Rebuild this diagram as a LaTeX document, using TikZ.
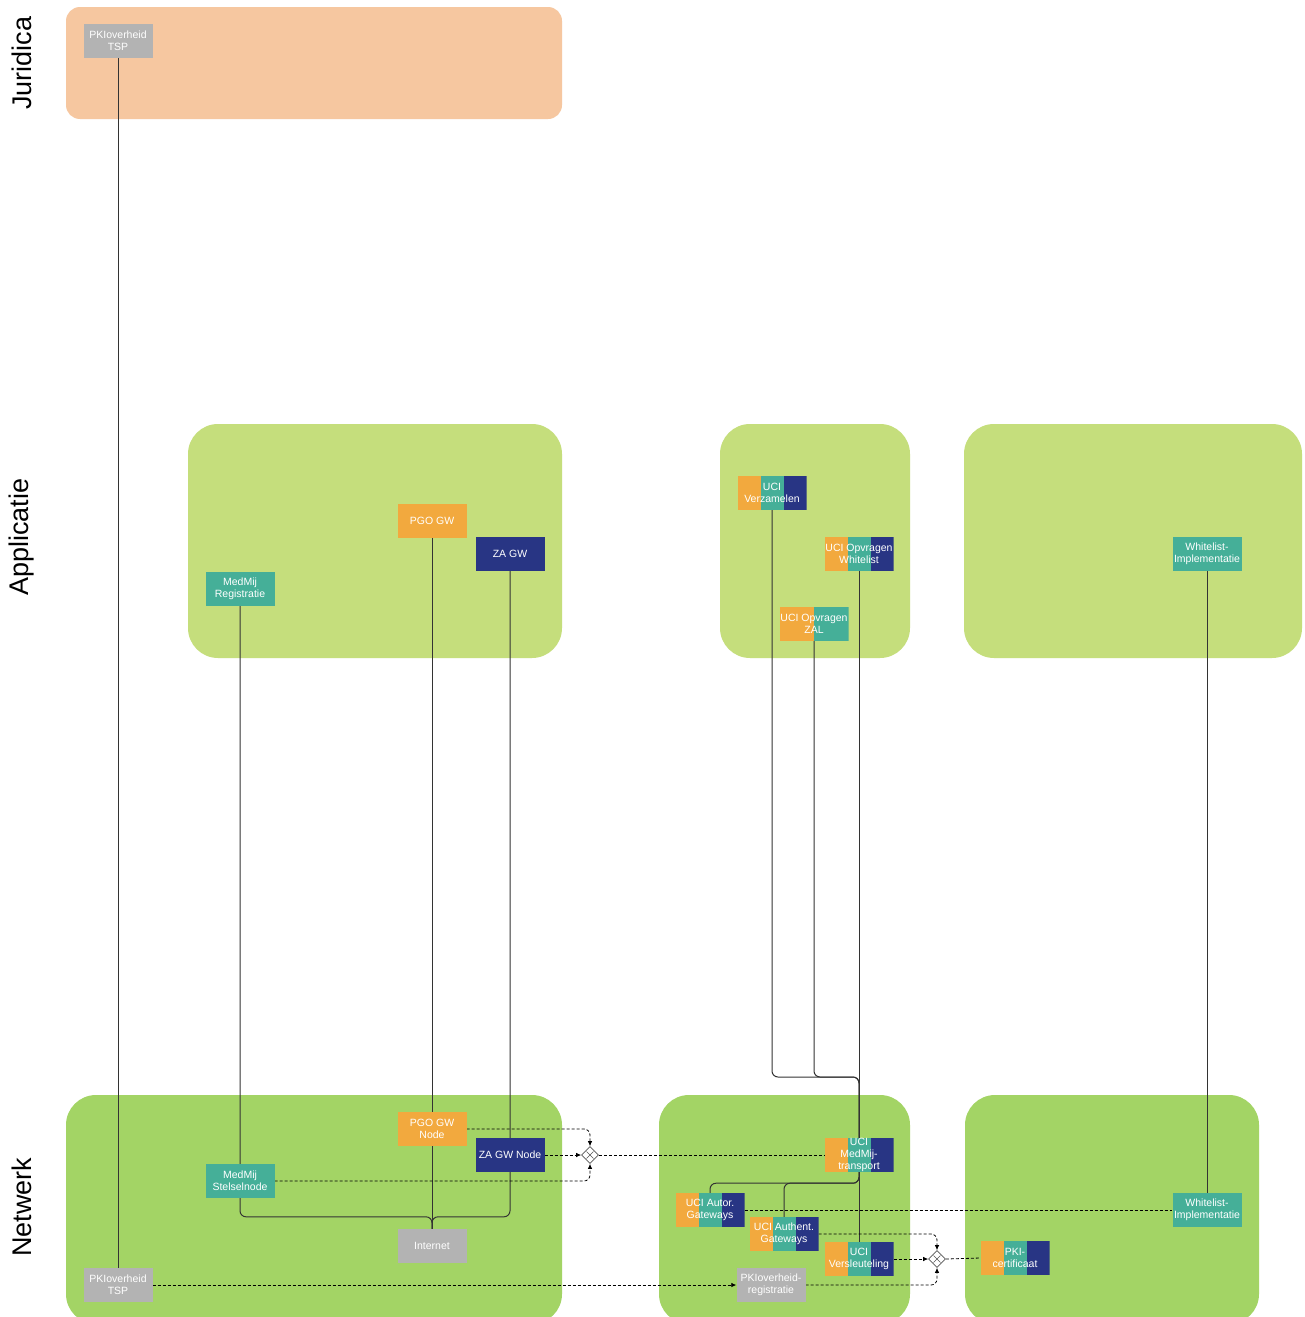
\documentclass[tikz,border=0pt]{standalone}
\usepackage{fontspec}
\setmainfont{Liberation Sans}
\usetikzlibrary{shapes.geometric,arrows.meta,calc}
\pgfdeclarelayer{bg}
\pgfdeclarelayer{lines}
\pgfsetlayers{bg,lines,main}
\definecolor{cOr}{HTML}{F2A93E}
\definecolor{cTe}{HTML}{45AF98}
\definecolor{cNa}{HTML}{283584}
\definecolor{cGr}{HTML}{B3B3B3}
\definecolor{cJur}{HTML}{F6C7A0}
\definecolor{cApp}{HTML}{C5DE7C}
\definecolor{cNet}{HTML}{A3D465}
\definecolor{cLine}{HTML}{333333}
\definecolor{cGate}{HTML}{555555}
\tikzset{
  box/.style={rectangle, minimum width=69pt, minimum height=34pt, inner sep=0pt,
    align=center, text=white, font=\fontsize{10.5}{12}\selectfont},
  grayb/.style={box, fill=cGr},
  orb/.style={box, fill=cOr},
  tealb/.style={box, fill=cTe},
  navyb/.style={box, fill=cNa},
  trib/.style={box, path picture={
    \fill[cOr] (path picture bounding box.south west) rectangle ($(path picture bounding box.north west)!1/3!(path picture bounding box.north east)$);
    \fill[cTe] ($(path picture bounding box.south west)!1/3!(path picture bounding box.south east)$) rectangle ($(path picture bounding box.north west)!2/3!(path picture bounding box.north east)$);
    \fill[cNa] ($(path picture bounding box.south west)!2/3!(path picture bounding box.south east)$) rectangle (path picture bounding box.north east);
  }},
  duob/.style={box, path picture={
    \fill[cOr] (path picture bounding box.south west) rectangle ($(path picture bounding box.north west)!1/2!(path picture bounding box.north east)$);
    \fill[cTe] ($(path picture bounding box.south west)!1/2!(path picture bounding box.south east)$) rectangle (path picture bounding box.north east);
  }},
  gate/.style={diamond, draw=cGate, fill=white, line width=0.6pt, minimum width=17pt, minimum height=17pt, inner sep=0pt,
    path picture={
      \draw[cGate, line width=0.4pt] ($(path picture bounding box.center)+(-3.5,-3.5)$) -- ($(path picture bounding box.center)+(3.5,3.5)$);
      \draw[cGate, line width=0.4pt] ($(path picture bounding box.center)+(-3.5,3.5)$) -- ($(path picture bounding box.center)+(3.5,-3.5)$);
  }},
  conn/.style={draw=cLine, line width=1pt, rounded corners=6pt},
  dconn/.style={draw=black, line width=0.8pt, dash pattern=on 3pt off 2pt, rounded corners=6pt},
  arr/.style={-{Latex[length=5pt,width=4.5pt]}},
  lanelbl/.style={rotate=90, font=\fontsize{27}{30}\selectfont, text=black},
}
\begin{document}
\begin{tikzpicture}[x=1pt,y=-1pt]
\useasboundingbox (0,0) rectangle (1305,1317);
\begin{pgfonlayer}{bg}
  \clip (0,0) rectangle (1305,1317);
  \fill[white] (0,0) rectangle (1305,1317);
  \fill[cJur, rounded corners=14pt] (66,7) rectangle (562,119);
  \fill[cApp, rounded corners=30pt] (188,424) rectangle (562,658);
  \fill[cApp, rounded corners=30pt] (720,424) rectangle (910,658);
  \fill[cApp, rounded corners=30pt] (964,424) rectangle (1302,658);
  \fill[cNet, rounded corners=30pt] (66,1095) rectangle (562,1324);
  \fill[cNet, rounded corners=30pt] (659,1095) rectangle (910,1324);
  \fill[cNet, rounded corners=30pt] (965,1095) rectangle (1259,1324);
\end{pgfonlayer}

% lane labels
\node[lanelbl] (ljur) at (22,63) {Juridica};
\node[lanelbl] (lapp) at (22,537) {Applicatie};
\node[lanelbl] (lnet) at (22,1207) {Netwerk};

% Juridica
\node[grayb] (tspT) at (118,41) {PKIoverheid\\TSP};

% Applicatie
\node[orb] (pgogw) at (432,521) {PGO GW};
\node[navyb] (zagw) at (510,554) {ZA GW};
\node[tealb] (mmreg) at (240,589) {MedMij\\Registratie};
\node[trib] (verz) at (772,493) {UCI\\Verzamelen};
\node[trib] (wlq) at (859,554) {UCI Opvragen\\Whitelist};
\node[duob] (zal) at (814,624) {UCI Opvragen\\ZAL};
\node[tealb] (wlt) at (1207,554) {Whitelist-\\Implementatie};

% Netwerk
\node[orb] (pgonode) at (432,1129) {PGO GW\\Node};
\node[navyb] (zanode) at (510,1155) {ZA GW Node};
\node[tealb] (stelsel) at (240,1181) {MedMij\\Stelselnode};
\node[grayb] (inet) at (432,1246) {Internet};
\node[grayb] (tspB) at (118,1285) {PKIoverheid\\TSP};
\node[gate] (d1) at (590,1155) {};
\node[trib] (trans) at (859,1155) {UCI\\MedMij-\\transport};
\node[trib] (autor) at (710,1210) {UCI Autor.\\Gateways};
\node[trib] (authent) at (784,1234) {UCI Authent.\\Gateways};
\node[trib] (versl) at (859,1259) {UCI\\Versleuteling};
\node[grayb] (pkireg) at (771,1285) {PKIoverheid-\\registratie};
\node[gate] (d2) at (937,1259) {};
\node[trib] (pkicert) at (1015,1258) {PKI-\\certificaat};
\node[tealb] (wlb) at (1207,1210) {Whitelist-\\Implementatie};

\coordinate (hub) at (859,1077);

\begin{pgfonlayer}{lines}
  % solid connectors
  \draw[conn] (tspT.south) -- (tspB.north);
  \draw[conn] (mmreg.south) |- ([yshift=12pt]inet.north) -- (inet.north);
  \draw[conn] (zagw.south) |- ([yshift=12pt]inet.north) -- (inet.north);
  \draw[conn] (pgogw.south) -- (inet.north);
  \draw[conn] (verz.south) |- (hub) -- (trans.north);
  \draw[conn] (zal.south) |- (hub) -- (trans.north);
  \draw[conn] (wlq.south) -- (trans.north);
  \draw[conn] (trans.south) -- (versl.north);
  \draw[conn] (trans.south) -- ++(0,11) -| (autor.north);
  \draw[conn] (trans.south) -- ++(0,11) -| (authent.north);
  \draw[conn] (wlt.south) -- (wlb.north);
  % dashed connectors
  \draw[dconn, arr] (pgonode.east) -| (d1.north);
  \draw[dconn, arr] (zanode.east) -- (d1.west);
  \draw[dconn, arr] (stelsel.east) -| (d1.south);
  \draw[dconn] (d1.east) -- (trans.west);
  \draw[dconn] (autor.east) -- (wlb.west);
  \draw[dconn, arr] (authent.east) -| (d2.north);
  \draw[dconn, arr] (versl.east) -- (d2.west);
  \draw[dconn, arr] (tspB.east) -- (pkireg.west);
  \draw[dconn, arr] (pkireg.east) -| (d2.south);
  \draw[dconn] (d2.east) -- (pkicert.west);
\end{pgfonlayer}
\end{tikzpicture}
\end{document}
